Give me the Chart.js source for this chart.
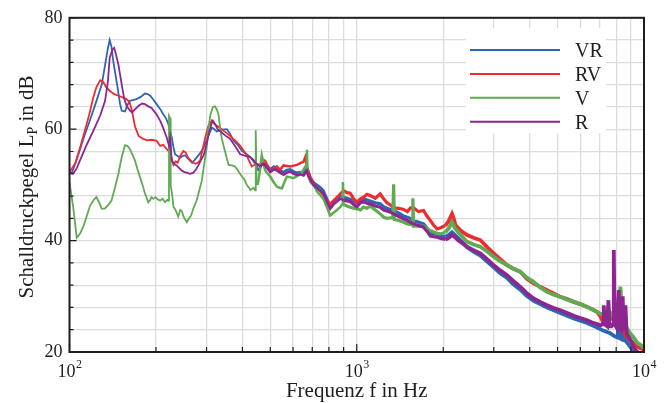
<!DOCTYPE html>
<html>
<head>
<meta charset="utf-8">
<script src="https://cdn.jsdelivr.net/npm/chart.js@4.4.1/dist/chart.umd.min.js"></script>
<style>
  html, body { margin: 0; padding: 0; background: #fff; }
  #c { display: block; }
</style>
</head>
<body>
<canvas id="c" width="668" height="403"></canvas>
<script>
// spectra: [frequency in Hz, level in dB]
const VR = [[100,52.2],[102,52.2],[105,54],[109,56.5],[113,59],[118,61.7],[124,65],[129.5,68],[133,71.5],[136,74.5],[138,76],[140,74.8],[142,72.2],[147,67.5],[150,64.5],[152,63.3],[156,63.2],[159,64.3],[162,65.1],[166,65.2],[171,65.4],[177,65.8],[183,66.4],[187,66.3],[191,66],[196,65.3],[201,64.5],[207,63.6],[212,62.7],[217,61.9],[221,60.9],[224,59.6],[227,58.5],[230,56.8],[233,55.5],[238,55.2],[243,54.9],[248,55.2],[253,55.3],[260,54.6],[267,54],[272,54.4],[277,54.9],[285,55.7],[293,56.7],[303,58.6],[313,60.3],[319,60],[326,59.6],[340,59.9],[353,60],[362,59.2],[372,58],[385,57.2],[398,56.1],[412,55.6],[426,55],[440,54],[447,53.8],[455,52.5],[467,53.8],[480,53.9],[500,52.8],[515,53.3],[527,53],[541,52.6],[556,52.3],[571,52.7],[587,52.8],[603,52.4],[619,52.2],[636,52.3],[653,52.2],[671,53],[689,51.4],[707,50.5],[727,50],[746,49.6],[766,49],[787,47.6],[808,46.3],[830,47],[853,47.5],[875,48],[900,47.8],[925,47.6],[949,47.4],[975,47.1],[1002,46.8],[1030,47.2],[1056,47.5],[1085,47.3],[1114,47.1],[1160,46.8],[1207,46.6],[1240,46.1],[1274,45.8],[1310,45.6],[1344,45.4],[1380,45.1],[1418,44.8],[1456,44.4],[1500,44.2],[1536,44],[1577,43.5],[1620,43.4],[1665,43.2],[1709,43],[1760,42.2],[1804,41.4],[1850,41.2],[1903,41.1],[1960,40.9],[2034,40.7],[2090,41],[2146,41.5],[2200,41],[2258,40.4],[2340,39.6],[2421,38.8],[2550,38],[2693,37.3],[2850,36.2],[2998,35.2],[3150,34.2],[3338,33.3],[3500,32.2],[3712,31.2],[3900,30.1],[4130,29.2],[4350,28.6],[4599,28],[4850,27.5],[5117,27],[5400,26.5],[5693,26],[6000,25.6],[6341,25.2],[6600,24.8],[6869,24.4],[7244,23.8],[7600,23.4],[7900,22.8],[8100,22.6],[8150,27],[8200,22.6],[8300,22.4],[8350,29],[8400,22.3],[8620,22],[8650,26],[8700,21.8],[9000,20.8],[9200,20]];

const RV = [[100,52.3],[105,54],[109,56.8],[113,59.7],[117,62.5],[121,65.7],[124,67.5],[128,68.8],[131,68.5],[134,67.6],[138,66.9],[143,66.3],[148,66],[153,65.7],[158,65.4],[162,64.8],[165,63.3],[169,60.5],[174,58.8],[180,58.3],[186,58],[193,58.1],[201,57.9],[207,57],[212,57.2],[218,56.4],[224,55.8],[230,53.6],[234,54.2],[238,54],[243,55.2],[249,56.1],[254,55.8],[258,55],[263,54.5],[269,54],[274,53.8],[280,54],[285,54.4],[291,56.5],[297,58.5],[304,60.5],[313,61.6],[319,61],[326,60.6],[335,60.2],[344,59.7],[353,59.3],[362,58.8],[377,58],[393,57],[412,55.5],[431,53.3],[447,53.8],[461,53.6],[472,54.5],[480,54.3],[500,52.4],[527,53.3],[541,52.7],[556,53.5],[587,53.3],[619,53.6],[653,54.2],[662,55],[671,53.3],[689,51.4],[707,50.3],[727,49.3],[746,48.9],[766,48.1],[787,47.3],[808,46.6],[830,47.2],[853,47.8],[880,48.5],[900,49],[925,48.6],[949,48.5],[975,47.5],[1002,46.9],[1030,47.5],[1056,47.8],[1085,48.3],[1114,48.1],[1160,47.6],[1207,48.4],[1240,47.5],[1274,46.8],[1310,46.4],[1344,45.9],[1400,45.8],[1456,45.6],[1500,45.2],[1540,45.9],[1577,45.9],[1640,45.2],[1709,45.4],[1750,44.5],[1804,43.6],[1850,42.8],[1903,42.1],[1960,42.3],[2034,42.7],[2090,43.5],[2146,44.8],[2175,44],[2205,42.8],[2300,41.8],[2421,41],[2550,40.5],[2693,40.1],[2850,38.8],[2998,37.7],[3150,36.7],[3338,35.6],[3500,35],[3712,34.4],[3900,33.2],[4130,32.3],[4350,31.7],[4599,31.1],[4850,30.5],[5117,29.9],[5400,29.5],[5693,29],[6000,28.6],[6341,28.1],[6600,27.7],[6869,27.2],[7050,26.4],[7244,25.1],[7450,25.6],[7650,26.3],[7900,25.5],[8100,25],[8280,24.5],[8500,23.5],[8720,22.7],[9000,22],[9417,21],[10000,20.4]];

const V = [[100,50.5],[103,46],[106,40.5],[109,41.3],[112,42.7],[115,44.5],[118,46.3],[121,47.2],[124,47.8],[127,46.8],[129.5,45.7],[133,45.8],[137,46.5],[140,47.2],[144,49.5],[148,52],[152,55],[156,57.1],[159,57],[162,56.5],[165,55.6],[169,54.4],[172,53],[176,51.4],[180,49.8],[183,48.5],[188,46.9],[191,47.3],[193,47.8],[196,47.5],[199,47.8],[203,47.4],[207,47.2],[211,47.5],[215,46.9],[219,47.3],[221,47.2],[222,62.4],[224,62],[225,50],[228,48],[230,46.1],[234,45.5],[239,44.3],[243,45.5],[246,45.3],[250,44.2],[256,43.3],[261,44],[265,44.5],[270,45.8],[277,47.2],[283,49],[289,50.8],[293,53],[297,55],[300,56.5],[304,60],[310,62.8],[316,64],[321,64.1],[326,63.5],[330,62.7],[334,60.5],[339,58.3],[344,57],[348,56],[353,54.8],[358,53.6],[367,53.5],[377,53.3],[387,52.5],[398,51.5],[406,51],[414,50],[420,49.6],[426,49.1],[437,49.5],[443,49],[445,59.8],[448,50.5],[452,50],[460,52.5],[467,55.3],[473,54],[480,52.6],[490,52],[500,51.5],[513,50.5],[527,49.7],[538,49.5],[549,49.4],[560,50.5],[571,51.5],[585,51.4],[600,51.2],[618,51.5],[636,52],[650,52.6],[662,53.3],[669,53.5],[671,56.3],[674,52],[690,50.5],[710,49.8],[727,48.8],[746,48.2],[766,47.5],[787,46],[808,44.5],[830,45],[853,45.5],[875,46],[890,46.5],[895,50.5],[900,46.5],[925,46.2],[949,46],[975,45.8],[1002,45.7],[1030,45.5],[1056,46],[1085,45.8],[1114,46.2],[1160,45.5],[1207,44.8],[1240,44.2],[1274,44],[1310,44.1],[1335,44],[1344,50.1],[1352,43.8],[1400,43.6],[1456,43.3],[1500,43],[1560,42.8],[1568,47.6],[1577,42.6],[1640,42.6],[1709,42.6],[1800,41.8],[1903,41.3],[1960,41.2],[2034,41.5],[2090,42.2],[2146,43.3],[2200,42.2],[2258,41.5],[2340,40.6],[2421,39.8],[2550,39.3],[2693,38.9],[2850,38],[2998,37.1],[3150,36.3],[3338,35.6],[3500,35],[3712,34.4],[3900,33.4],[4130,32.6],[4350,31.6],[4599,30.8],[4850,30.3],[5117,29.9],[5400,29.4],[5693,29],[6000,28.6],[6341,28.1],[6600,27.6],[6869,27.2],[7100,26.8],[7300,26.6],[7500,28],[7650,26.5],[7900,27.5],[8050,26.2],[8280,31.7],[8400,26],[8600,24.8],[8900,23.5],[9200,22.6],[9500,21.6],[9723,21.3],[10000,20.7]];

const R = [[100,52.2],[103,52],[106,53],[110,55],[115,57.3],[120,59.3],[124,60.9],[128,62.5],[133,65.1],[136,68.5],[138,72.8],[141,74.3],[143,74.6],[145,73.5],[148,71.6],[152,68],[155,65.5],[158,64.2],[162,63.4],[165,63],[170,63.7],[174,64.2],[179,64.6],[183,64.5],[188,64.1],[193,63.8],[200,62.8],[207,61.5],[212,60.2],[218,58.5],[222,57],[224,58.5],[227,54.3],[232,53.7],[236,53.5],[241,53],[246,52.6],[251,52.3],[256,52.2],[263,52],[270,52.2],[276,52.8],[281,53.5],[287,54.5],[293,55.3],[300,57.3],[305,59],[311,60.8],[316,61.5],[321,60.9],[328,60],[337,59.5],[350,58.8],[362,58.3],[377,57],[393,55.5],[410,55.2],[426,55],[437,54.5],[447,53.8],[461,53.3],[472,53.8],[480,53.5],[500,52.3],[515,52.8],[527,52.6],[541,52.2],[556,51.8],[571,52.2],[587,52.4],[603,52],[619,51.8],[636,51.9],[653,51.7],[671,52.5],[680,51.5],[689,51],[707,50],[727,49.5],[746,49],[766,48.5],[787,47],[808,45.7],[830,46.5],[853,47],[875,47.5],[900,47.3],[925,47.1],[949,47],[975,46.5],[1002,46.1],[1030,46.8],[1056,47],[1085,46.7],[1114,46.6],[1160,46.2],[1207,46],[1240,45.5],[1274,45.3],[1310,45.1],[1344,44.8],[1380,44.5],[1418,44.2],[1456,43.9],[1500,43.6],[1536,43.3],[1577,43],[1620,42.8],[1665,42.6],[1709,42.4],[1760,41.6],[1804,40.8],[1850,40.7],[1903,40.6],[1960,40.4],[2034,40.2],[2090,40.5],[2146,41],[2200,40.6],[2258,40],[2340,39.5],[2421,38.9],[2550,38.3],[2693,37.7],[2850,36.6],[2998,35.6],[3150,34.7],[3338,33.8],[3500,32.8],[3712,31.7],[3900,30.6],[4130,29.6],[4350,29],[4599,28.4],[4850,27.9],[5117,27.5],[5400,27],[5693,26.5],[6000,26.1],[6341,25.7],[6600,25.3],[6869,25],[7050,24.8],[7200,25],[7244,28.4],[7290,25],[7450,24.6],[7520,29.3],[7580,24.6],[7700,24.6],[7800,25],[7850,38.3],[7900,25],[8050,24.3],[8171,31.1],[8250,24.2],[8350,24],[8430,30],[8500,24],[8620,28.4],[8700,23.3],[8900,22.5],[9100,21.5],[9300,20.5],[9500,20]];

const names = ['VR', 'RV', 'V', 'R'];
const colors = ['#2e67b1', '#ee2c30', '#5fab52', '#8d2690'];
const xLabelValues = [100, 1000, 10000];
const xLabelExp = ['2', '3', '4'];

const FONT = '"Liberation Serif", "Times New Roman", serif';
const INK = '#1e1e1e';

// grid every 1..9 x decade
const xGrid = [];
for (let d = 100; d < 10000; d *= 10) {
  for (let m = 1; m < 10; m++) xGrid.push(m * d);
}
xGrid.push(10000);

function lineWidthFor(f) {
  if (f < 450) return 1.8;
  if (f < 900) return 2.5;
  if (f < 2000) return 3.2;
  return 3.8;
}

const decor = {
  id: 'decor',
  afterDraw(chart) {
    const ctx = chart.ctx;
    const a = chart.chartArea;
    const xs = chart.scales.x, ys = chart.scales.y;
    ctx.save();

    // inward ticks
    ctx.strokeStyle = INK;
    ctx.lineWidth = 1.2;
    ctx.beginPath();
    xGrid.forEach(v => {
      const px = xs.getPixelForValue(v);
      const major = xLabelValues.includes(v);
      ctx.moveTo(px, a.bottom);
      ctx.lineTo(px, a.bottom - (major ? 8 : 5));
    });
    ys.ticks.forEach(t => {
      const py = ys.getPixelForValue(t.value);
      ctx.moveTo(a.left, py);
      ctx.lineTo(a.left + (t.value % 20 === 0 ? 7 : 4), py);
    });
    ctx.stroke();

    // frame
    ctx.lineWidth = 2;
    ctx.strokeRect(a.left, a.top, a.right - a.left, a.bottom - a.top);

    // x tick labels 10^n
    ctx.fillStyle = INK;
    ctx.textBaseline = 'alphabetic';
    ctx.textAlign = 'left';
    xLabelValues.forEach((v, i) => {
      const px = xs.getPixelForValue(v);
      ctx.font = '18px ' + FONT;
      const wb = ctx.measureText('10').width;
      ctx.font = '12px ' + FONT;
      const we = ctx.measureText(xLabelExp[i]).width;
      const x0 = px - (wb + we) / 2;
      ctx.font = '18px ' + FONT;
      ctx.fillText('10', x0, 377);
      ctx.font = '12px ' + FONT;
      ctx.fillText(xLabelExp[i], x0 + wb + 0.5, 368);
    });

    // x title
    ctx.font = '21px ' + FONT;
    ctx.textAlign = 'center';
    ctx.fillText('Frequenz f in Hz', (a.left + a.right) / 2, 397);

    // y title with subscript
    ctx.save();
    ctx.translate(33, (a.top + a.bottom) / 2 + 2);
    ctx.rotate(-Math.PI / 2);
    ctx.textAlign = 'left';
    const t1 = 'Schalldruckpegel L', t2 = 'P', t3 = ' in dB';
    ctx.font = '21px ' + FONT;
    const w1 = ctx.measureText(t1).width, w3 = ctx.measureText(t3).width;
    ctx.font = '14px ' + FONT;
    const w2 = ctx.measureText(t2).width;
    let x = -(w1 + w2 + w3) / 2;
    ctx.font = '21px ' + FONT;
    ctx.fillText(t1, x, 0);
    ctx.font = '14px ' + FONT;
    ctx.fillText(t2, x + w1, 4);
    ctx.font = '21px ' + FONT;
    ctx.fillText(t3, x + w1 + w2, 0);
    ctx.restore();

    // legend
    const lx = a.right - 178, ly = 28;
    ctx.fillStyle = '#ffffff';
    ctx.beginPath();
    ctx.roundRect(lx, ly, 140, 105, 3);
    ctx.fill();
    ctx.font = '20px ' + FONT;
    ctx.textAlign = 'left';
    names.forEach((n, i) => {
      const y = 50 + i * 23.9;
      ctx.strokeStyle = colors[i];
      ctx.lineWidth = 2;
      ctx.beginPath();
      ctx.moveTo(lx + 4, y);
      ctx.lineTo(lx + 94, y);
      ctx.stroke();
      ctx.fillStyle = INK;
      ctx.fillText(n, lx + 109, y + 7);
    });
    ctx.restore();
  }
};

const series = [VR, RV, V, R];

new Chart(document.getElementById('c'), {
  type: 'line',
  data: {
    datasets: series.map((s, i) => ({
      label: names[i],
      data: s.map(p => ({ x: p[0], y: p[1] })),
      borderColor: colors[i],
      backgroundColor: colors[i],
      borderWidth: 1.8,
      pointRadius: 0,
      tension: 0,
      order: 3 - i,
      segment: { borderWidth: c => lineWidthFor(c.p0.parsed.x) }
    }))
  },
  options: {
    responsive: false,
    animation: false,
    devicePixelRatio: 1,
    layout: { padding: { top: 17, right: 24, left: 0, bottom: 0 } },
    plugins: { legend: { display: false }, tooltip: { enabled: false } },
    scales: {
      x: {
        type: 'logarithmic',
        min: 100,
        max: 10000,
        afterBuildTicks: s => { s.ticks = xGrid.map(v => ({ value: v })); },
        afterFit: s => { s.height = 51; },
        ticks: { display: false },
        grid: { color: '#dcdcdc', lineWidth: 1.3, drawTicks: false },
        border: { display: false }
      },
      y: {
        min: 20,
        max: 80,
        afterFit: s => { s.width = 69.5; },
        ticks: {
          stepSize: 4,
          autoSkip: false,
          padding: 7,
          color: INK,
          font: { family: FONT, size: 18 },
          callback: v => (v % 20 === 0 ? String(v) : '')
        },
        grid: { color: '#dcdcdc', lineWidth: 1.3, drawTicks: false },
        border: { display: false }
      }
    }
  },
  plugins: [decor]
});
</script>
</body>
</html>
